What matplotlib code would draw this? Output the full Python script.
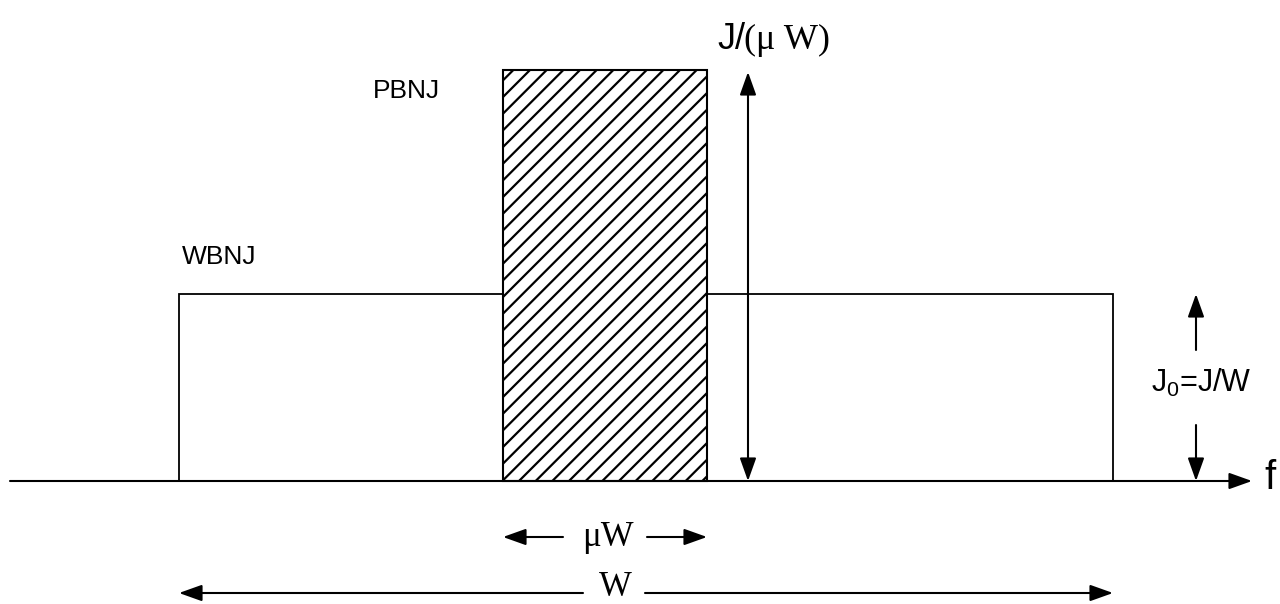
import matplotlib.pyplot as plt
from matplotlib.patches import Rectangle

# diagram values (drawing units: frequency along x, jamming level along y)
f_axis = [10, 1252]            # frequency axis extent
wbnj_band = [179, 1113]        # wideband noise jamming, width W
pbnj_band = [503, 707]         # partial-band noise jamming, width muW
j0_level = 187                 # J0 = J/W
pbnj_level = 411               # J/(muW)

labels = {"wbnj": "WBNJ", "pbnj": "PBNJ", "f": "f"}

plt.rcParams["mathtext.fontset"] = "custom"
plt.rcParams["mathtext.rm"] = "Liberation Sans"
plt.rcParams["mathtext.default"] = "regular"
plt.rcParams["hatch.linewidth"] = 1.6

SANS = "Liberation Sans"
SERIF = "Liberation Serif"


def arrow(ax, start, end, both=False, lw=1.5):
    style = "<|-|>" if both else "-|>"
    ax.annotate(
        "", xy=end, xytext=start,
        arrowprops=dict(arrowstyle=style + ",head_length=0.7,head_width=0.25",
                        mutation_scale=20, color="black", lw=lw,
                        shrinkA=0, shrinkB=0),
    )


fig = plt.figure(figsize=(12.8, 6.04), dpi=100)
ax = fig.add_axes([0, 0, 1, 1])
ax.set_xlim(0, 1280)
ax.set_ylim(-123, 481)
ax.axis("off")

# wideband block
ax.add_patch(Rectangle((wbnj_band[0], 0), wbnj_band[1] - wbnj_band[0], j0_level,
                       facecolor="white", edgecolor="black", lw=1.3, zorder=2))
# partial band block (hatched)
ax.add_patch(Rectangle((pbnj_band[0], 0), pbnj_band[1] - pbnj_band[0], pbnj_level,
                       facecolor="white", edgecolor="black", hatch="//", lw=1.5, zorder=3))

# frequency axis
arrow(ax, (f_axis[0], 0), (f_axis[1], 0))
ax.text(f_axis[1] + 12, -8, labels["f"], fontsize=29, family=SANS, va="baseline")

# J/(muW) double arrow
x_pb = pbnj_band[1] + 41
arrow(ax, (x_pb, 0), (x_pb, pbnj_level - 2), both=True)
ax.text(717, 432, "J/", fontsize=26, family=SANS, va="baseline")
ax.text(744, 432, "(\u03bc W)", fontsize=26, family=SERIF, va="baseline")

# J0 arrows
x_j0 = wbnj_band[1] + 83
arrow(ax, (x_j0, 131), (x_j0, j0_level))
arrow(ax, (x_j0, 56), (x_j0, 0))
ax.text(1151, 89, r"J$_0$=J/W", fontsize=22, family=SANS, va="baseline")

# block labels
ax.text(182, 217, labels["wbnj"], fontsize=19, family=SANS, va="baseline")
ax.text(373, 383, labels["pbnj"], fontsize=19, family=SANS, va="baseline")

# muW width arrows
mid_pb = (pbnj_band[0] + pbnj_band[1]) / 2
arrow(ax, (mid_pb - 42, -56), (pbnj_band[0], -56))
arrow(ax, (mid_pb + 42, -56), (pbnj_band[1], -56))
ax.text(mid_pb + 3, -56, "\u03bcW", fontsize=25, family=SERIF, ha="center", va="center")

# W width arrows
arrow(ax, (mid_pb - 22, -112), (wbnj_band[0], -112))
arrow(ax, (mid_pb + 40, -112), (wbnj_band[1], -112))
ax.text(mid_pb + 10, -122.5, "W", fontsize=25, family=SERIF, ha="center", va="bottom")

fig.savefig("out.png", dpi=100)
